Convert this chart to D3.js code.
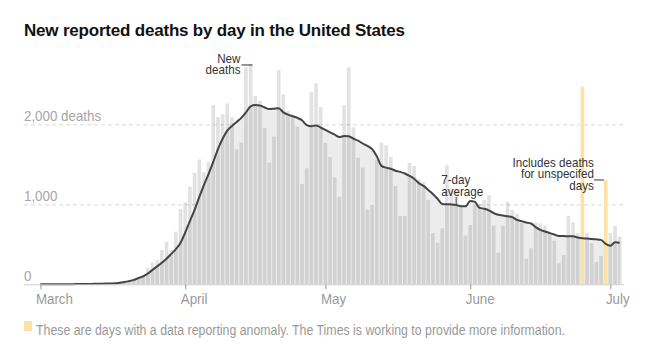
<!DOCTYPE html>
<html>
<head>
<meta charset="utf-8">
<script src="https://cdn.jsdelivr.net/npm/d3@7"></script>
<style>
body { margin: 0; background: #fff; }
svg { display: block; }
text { font-family: "Liberation Sans", Arial, sans-serif; }
</style>
</head>
<body>
<svg id="chart"></svg>
<script>
const width = 652,
    height = 352;

// daily data, one value per day starting March 1, 2020
const startDay = "2020-03-01";
const dailyDeaths = [
    // March
    1, 3, 2, 4, 2, 3, 3, 4, 5, 6,
    7, 9, 10, 12, 13, 16, 22, 30, 40, 55,
    70, 96, 116, 205, 275, 304, 429, 533, 429, 658,
    941,
    // April
    1025, 1220, 1395, 1560, 1400, 1529, 2241, 2090, 2125, 2262,
    2087, 1687, 1770, 2712, 2754, 2354, 2291, 1955, 1522, 1845,
    2679, 2375, 2170, 2116, 1970, 1254, 1450, 2400, 2512, 2216,
    // May
    1766, 1590, 1337, 1095, 2237, 2712, 1962, 1583, 1458, 933,
    991, 1554, 1770, 1737, 1595, 1229, 854, 854, 1520, 1479,
    1310, 1280, 1054, 640, 520, 700, 1490, 1200, 1180, 975,
    608,
    // June
    741, 1004, 1004, 1054, 1116, 733, 395, 733, 1033, 929,
    879, 770, 320, 450, 770, 760, 733, 658, 545, 262,
    366, 858, 775, 640, 2470, 645, 512, 279, 354, 1304,
    // July
    645, 729, 595
];
const weeklyAverage = [
    // March
    0, 0, 1, 1, 1, 2, 2, 2, 3, 3,
    4, 5, 6, 8, 9, 11, 12, 20, 28, 40,
    55, 78, 100, 135, 180, 225, 270, 320, 380, 440,
    520,
    // April
    650, 790, 930, 1090, 1240, 1380, 1530, 1690, 1820, 1920,
    1980, 2030, 2080, 2150, 2225, 2240, 2235, 2210, 2190, 2195,
    2200, 2150, 2120, 2100, 2080, 2050, 1990, 1975, 1985, 1960,
    // May
    1930, 1900, 1870, 1840, 1855, 1850, 1820, 1795, 1760, 1730,
    1690, 1600, 1480, 1458, 1445, 1420, 1405, 1385, 1355, 1320,
    1265, 1230, 1180, 1130, 1070, 1005, 1000, 998, 990, 975,
    975,
    // June
    1040, 1030, 955, 945, 925, 890, 870, 860, 850, 840,
    805, 790, 772, 760, 715, 680, 660, 640, 622, 605,
    604, 600, 600, 585, 575, 572, 565, 562, 555, 505,
    // July
    482, 525, 520
];
const anomalyDays = ["2020-06-25", "2020-06-30"];
const monthTicks = ["2020-03-01", "2020-04-01", "2020-05-01", "2020-06-01", "2020-07-01"];
const yTicks = [0, 1000, 2000];
const yTickLabels = ["0", "1,000", "2,000 deaths"];

const parse = d3.utcParse("%Y-%m-%d");
const fmt = d3.utcFormat("%Y-%m-%d");
const first = parse(startDay);

const rows = dailyDeaths.map((v, i) => ({
    date: d3.utcDay.offset(first, i),
    value: v,
    avg: weeklyAverage[i]
}));
const anomalies = new Set(anomalyDays);

// squeeze text horizontally, the original uses a condensed face
function condense(sel, k) {
    sel.each(function () {
        const w = this.getComputedTextLength();
        d3.select(this)
            .attr("textLength", w * k)
            .attr("lengthAdjust", "spacingAndGlyphs");
    });
}

const svg = d3.select("#chart")
    .attr("width", width)
    .attr("height", height);

const x = d3.scaleUtc()
    .domain([parse("2020-03-01"), parse("2020-07-01")])
    .range([40.4, 610.4]);
const y = d3.scaleLinear()
    .domain([0, 2000])
    .range([284.3, 124.3]);

const dayW = x(parse("2020-03-02")) - x(parse("2020-03-01"));
const barW = dayW - 1;

// title
svg.append("text")
    .attr("x", 24)
    .attr("y", 36)
    .attr("fill", "#121212")
    .style("font-weight", "bold")
    .style("font-size", "17px")
    .style("letter-spacing", "-0.2px")
    .text("New reported deaths by day in the United States");

// dashed gridlines
svg.append("g")
    .selectAll("line")
    .data(yTicks.filter(d => d > 0))
    .join("line")
    .attr("x1", 24)
    .attr("x2", 624)
    .attr("y1", d => y(d) + 0.5)
    .attr("y2", d => y(d) + 0.5)
    .attr("stroke", "#d9d9d9")
    .attr("stroke-dasharray", "4,3");

// y labels
svg.append("g")
    .selectAll("text")
    .data(yTicks)
    .join("text")
    .attr("x", 24)
    .attr("y", d => y(d) - 3.5)
    .attr("fill", "#a6a6a6")
    .style("font-size", "15.5px")
    .text((d, i) => yTickLabels[i])
    .call(condense, 0.86);

// shaded area under the 7-day average
const area = d3.area()
    .x(d => x(d.date))
    .y0(y(0))
    .y1(d => y(d.avg))
    .curve(d3.curveMonotoneX);

svg.append("path")
    .datum(rows)
    .attr("d", area)
    .attr("fill", "#ececec");

// daily bars (semi-transparent so they darken over the area)
svg.append("g")
    .selectAll("rect")
    .data(rows)
    .join("rect")
    .attr("x", d => x(d.date) - barW / 2)
    .attr("y", d => y(d.value))
    .attr("width", barW)
    .attr("height", d => y(0) - y(d.value))
    .attr("fill", d => anomalies.has(fmt(d.date)) ? "#fde2a6" : "rgba(0,0,0,0.115)");

// 7-day average line
const line = d3.line()
    .x(d => x(d.date))
    .y(d => y(d.avg))
    .curve(d3.curveMonotoneX);

svg.append("path")
    .datum(rows)
    .attr("d", line)
    .attr("fill", "none")
    .attr("stroke", "#444")
    .attr("stroke-width", 2)
    .attr("stroke-linejoin", "round");

// x axis
svg.append("line")
    .attr("x1", 24)
    .attr("x2", 624)
    .attr("y1", y(0) + 0.5)
    .attr("y2", y(0) + 0.5)
    .attr("stroke", "#ccc");

const xAxis = svg.append("g")
    .attr("transform", `translate(0,${y(0)})`)
    .call(d3.axisBottom(x)
        .tickValues(monthTicks.map(parse))
        .tickFormat(d3.utcFormat("%B"))
        .tickSize(5));

xAxis.select(".domain").remove();
xAxis.selectAll(".tick line").attr("stroke", "#999");
xAxis.selectAll(".tick text")
    .attr("text-anchor", "start")
    .attr("x", -5)
    .attr("y", 19.5)
    .attr("dy", 0)
    .attr("fill", "#999")
    .style("font-family", "'Liberation Sans', Arial, sans-serif")
    .style("font-size", "15.5px")
    .call(condense, 0.86);

// annotations
const note = svg.append("g")
    .attr("fill", "#333")
    .style("font-size", "13.5px");

const peak = rows.find(d => fmt(d.date) === "2020-04-15");
const px = x(peak.date) + barW / 2,
    py = y(peak.value);
note.append("text").attr("x", px - 12).attr("y", py - 1).attr("text-anchor", "end").text("New");
note.append("text").attr("x", px - 12).attr("y", py + 10.5).attr("text-anchor", "end").text("deaths");
note.append("line")
    .attr("x1", px - 11).attr("x2", px)
    .attr("y1", py + 1).attr("y2", py + 1)
    .attr("stroke", "#333");

const avgDay = rows.find(d => fmt(d.date) === "2020-05-29");
const ax = x(avgDay.date),
    ay = y(avgDay.avg);
note.append("text").attr("x", ax - 15).attr("y", ay - 21).text("7-day");
note.append("text").attr("x", ax - 15).attr("y", ay - 9.5).text("average");
note.append("line")
    .attr("x1", ax).attr("x2", ax)
    .attr("y1", ay - 8).attr("y2", ay - 1)
    .attr("stroke", "#555");

const unspec = rows.find(d => fmt(d.date) === "2020-06-30");
const ux = x(unspec.date) - barW / 2,
    uy = y(unspec.value);
note.append("text").attr("x", ux - 10).attr("y", uy - 13).attr("text-anchor", "end").text("Includes deaths");
note.append("text").attr("x", ux - 10).attr("y", uy - 1.5).attr("text-anchor", "end").text("for unspecifed");
note.append("text").attr("x", ux - 10).attr("y", uy + 10).attr("text-anchor", "end").text("days");
note.append("line")
    .attr("x1", ux - 10).attr("x2", ux)
    .attr("y1", uy).attr("y2", uy)
    .attr("stroke", "#333");

note.selectAll("text").call(condense, 0.86);

// footnote
svg.append("rect")
    .attr("x", 24)
    .attr("y", 321)
    .attr("width", 8)
    .attr("height", 10)
    .attr("fill", "#fde2a6");

svg.append("text")
    .attr("x", 36)
    .attr("y", 335)
    .attr("fill", "#999")
    .style("font-size", "14px")
    .attr("textLength", 529)
    .attr("lengthAdjust", "spacingAndGlyphs")
    .text("These are days with a data reporting anomaly. The Times is working to provide more information.");
</script>
</body>
</html>
